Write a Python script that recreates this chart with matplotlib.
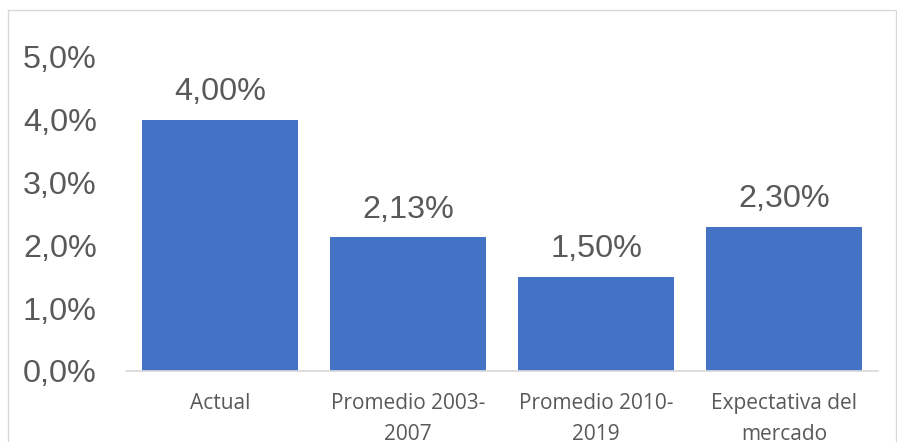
import matplotlib.pyplot as plt
from matplotlib.patches import Rectangle

# Tasa de inflación: actual, promedios históricos y expectativa
categorias = ["Actual", "Promedio 2003-\n2007", "Promedio 2010-\n2019", "Expectativa del\nmercado"]
valores = [4.00, 2.13, 1.50, 2.30]
ticks_y = [0, 1, 2, 3, 4, 5]

AZUL = "#4472C4"
GRIS = "#595959"

fig = plt.figure(figsize=(8.97, 4.42), dpi=100)
ax = fig.add_axes([126 / 897, 1 - 371 / 442, 752 / 897, 314 / 442])

x = range(len(valores))
barras = ax.bar(x, valores, width=0.83, color=AZUL)

for xi, v in zip(x, valores):
    ax.annotate(f"{v:.2f}%".replace(".", ","), (xi, v), xytext=(0, 9),
                textcoords="offset points", ha="center", va="bottom",
                fontsize=23.3, color=GRIS, family="Liberation Sans")

ax.set_xlim(-0.5, len(valores) - 0.5)
ax.set_ylim(0, 5)
ax.set_yticks(ticks_y)
ax.set_yticklabels([f"{t:.1f}%".replace(".", ",") for t in ticks_y],
                   fontsize=23.3, color=GRIS, family="Liberation Sans")
ax.set_xticks(list(x))
ax.set_xticklabels(categorias, fontsize=15, color=GRIS, family="Open Sans",
                   linespacing=1.6)

for lado in ["top", "right", "left"]:
    ax.spines[lado].set_visible(False)
ax.spines["bottom"].set_color("#D9D9D9")
ax.spines["bottom"].set_linewidth(1.2)
ax.tick_params(axis="both", length=0)
ax.tick_params(axis="y", pad=21)
ax.tick_params(axis="x", pad=16)

# marco del gráfico
fig.patches.append(Rectangle((8 / 897, -0.05), 888 / 897, 1.05 - 10 / 442,
                             transform=fig.transFigure, fill=False,
                             edgecolor="#D9D9D9", linewidth=1.0))

fig.savefig("out.png", dpi=100)
